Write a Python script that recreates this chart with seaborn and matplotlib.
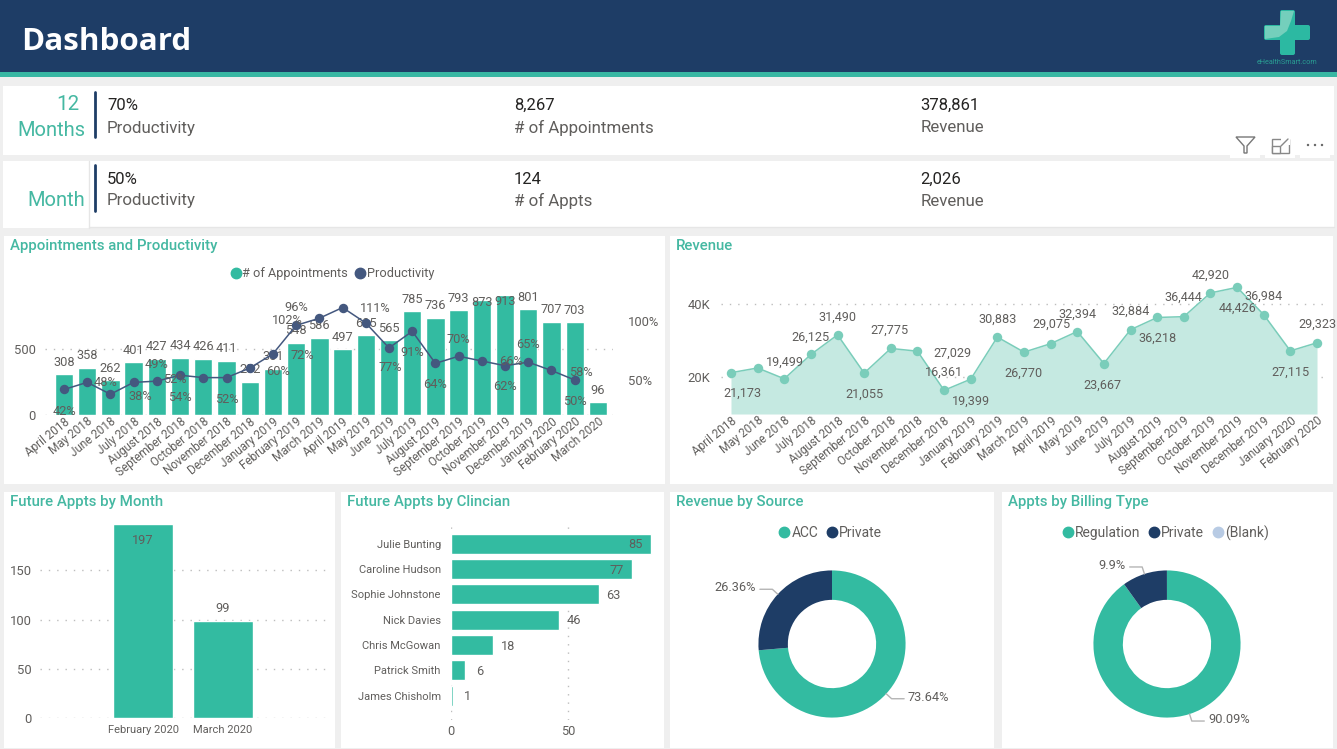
import numpy as np
import pandas as pd
import matplotlib
matplotlib.use('Agg')
import matplotlib.pyplot as plt
import seaborn as sns
from matplotlib.lines import Line2D
from matplotlib.patches import Rectangle, FancyBboxPatch, Polygon, Circle

W, H = 1337, 749

TEAL = '#33BBA1'
NAVY = '#1E3D66'
SLATE = '#44587F'
TITLE = '#45B8A2'
GREY = '#605E5C'
PAGE = '#EFEFEF'

months = ['April 2018', 'May 2018', 'June 2018', 'July 2018', 'August 2018', 'September 2018',
          'October 2018', 'November 2018', 'December 2018', 'January 2019', 'February 2019',
          'March 2019', 'April 2019', 'May 2019', 'June 2019', 'July 2019', 'August 2019',
          'September 2019', 'October 2019', 'November 2019', 'December 2019', 'January 2020',
          'February 2020', 'March 2020']
appointments = [308, 358, 262, 401, 427, 434, 426, 411, 252, 351, 548, 586, 497, 605, 565,
                785, 736, 793, 873, 913, 801, 707, 703, 96]
productivity = [42, 48, 38, 48, 49, 54, 52, 52, 60, 72, 96, 102, 111, 98, 77, 91, 64, 70, 66,
                62, 65, 58, 50]
revenue = [21173, 22450, 19499, 26125, 31490, 21055, 27775, 27029, 16361, 19399, 30883, 26770,
           29075, 32394, 23667, 32884, 36218, 36444, 42920, 44426, 36984, 27115, 29323]

future_months = ['February 2020', 'March 2020']
future_appts = [197, 99]
clinicians = ['Julie Bunting', 'Caroline Hudson', 'Sophie Johnstone', 'Nick Davies',
              'Chris McGowan', 'Patrick Smith', 'James Chisholm']
clinician_appts = [85, 77, 63, 46, 18, 6, 1]

source_names = ['ACC', 'Private']
source_share = [73.64, 26.36]
billing_names = ['Regulation', 'Private', '(Blank)']
billing_share = [90.09, 9.9, 0.01]
billing_labels = ['90.09%', '9.9%', None]

kpi_rows = [
    [('70%', 'Productivity'), ('8,267', '# of Appointments'), ('378,861', 'Revenue')],
    [('50%', 'Productivity'), ('124', '# of Appts'), ('2,026', 'Revenue')],
]

# label offsets in pixels (dx, dy down), None where power bi dropped the label
prod_offsets = [(0, 22), (18, 0), (30, 2), None, (0, -17), (0, 22), (-28, 2), (0, 22), (28, 3),
                (29, 2), (0, -18), (-32, 2), (33, 1), None, (1, 20), (0, 21), (0, 21), (0, -17),
                (29, 1), (0, 21), (0, -18), (29, 2), (0, 22)]
appt_offsets = [-12] * 24
appt_offsets[18] = 3
appt_offsets[19] = 7
rev_offsets = [(11, 21), None, (1, -17), (0, -17), (0, -18), (0, 21), (-1, -18), (35, 2),
               (0, -18), (0, 22), (0, -18), (-1, 21), (1, -19), (0, -17), (-1, 22), (0, -18),
               (0, 21), (-1, -19), (0, -18), (0, 21), (0, -18), (0, 21), (0, -18)]


def ax_px(x0, y0, x1, y1):
    ax = fig.add_axes([x0 / W, 1 - y1 / H, (x1 - x0) / W, (y1 - y0) / H])
    ax.patch.set_alpha(0)
    return ax


def style_axis(ax, grid='y'):
    sns.despine(ax=ax, left=True, bottom=True, right=True, top=True)
    ax.set_xlabel('')
    ax.set_ylabel('')
    ax.tick_params(length=0, colors=GREY, labelsize=9.4)
    ax.grid(False)
    ax.grid(axis=grid, color='#bdbdbd', linestyle=(0, (1, 5)), linewidth=1)
    ax.set_axisbelow(True)


def month_ticks(ax, labels):
    ax.set_xticks(range(len(labels)))
    ax.set_xticklabels(labels, rotation=39, ha='right', rotation_mode='anchor', fontsize=8.5, color=GREY)
    ax.tick_params(axis='x', pad=0)


def card(x0, y0, x1, y1, title=None):
    bg.add_patch(Rectangle((x0, y0), x1 - x0, y1 - y0, facecolor='white', edgecolor='none'))
    if title:
        bg.text(x0 + 6, y0 + 10, title, color=TITLE, fontsize=10.8, fontweight='medium', va='center', ha='left')


def donut(ax, shares, labels, colors, text_dx):
    wedges, _ = ax.pie(shares, colors=colors, startangle=90, counterclock=False, radius=1,
                       wedgeprops=dict(width=0.4, linewidth=0))
    ax.set_xlim(-1.4, 1.4)
    ax.set_ylim(-1.4, 1.4)
    for wedge, label in zip(wedges, labels):
        if label is None:
            continue
        ang = np.deg2rad((wedge.theta1 + wedge.theta2) / 2)
        px, py = np.cos(ang), np.sin(ang)
        side = 1 if px > 0 else -1
        ex, ey = 1.1 * px, 1.1 * py
        ax.plot([px, ex, ex + side * 0.17], [py, ey, ey], color='#b5b5b5', lw=1, clip_on=False)
        ax.text(ex + side * text_dx, ey + 0.02, label, color=GREY, fontsize=9.2, va='center',
                ha='left' if side > 0 else 'right', clip_on=False)


def dot_legend(ax, names, colors, cx, cy, **kw):
    handles = [Line2D([], [], marker='o', linestyle='', markersize=7.5, color=c, label=n)
               for n, c in zip(names, colors)]
    leg = ax.legend(handles=handles, ncols=len(names), loc='center', frameon=False,
                    bbox_to_anchor=(cx / W, 1 - cy / H), bbox_transform=fig.transFigure,
                    handlelength=0.9, handletextpad=0.05, columnspacing=0.55, borderpad=0, **kw)
    for t in leg.get_texts():
        t.set_color(GREY)
    return leg


sns.set_theme(style='white')
plt.rcParams['font.family'] = ['Roboto', 'DejaVu Sans']

fig = plt.figure(figsize=(W / 100, H / 100), dpi=100, facecolor=PAGE)

bg = fig.add_axes([0, 0, 1, 1])
bg.set_xlim(0, W)
bg.set_ylim(H, 0)
bg.axis('off')

# header
bg.add_patch(Rectangle((0, 0), W, 72, facecolor=NAVY, edgecolor='none'))
bg.add_patch(Rectangle((0, 72), W, 5, facecolor='#38B7A3', edgecolor='none'))
bg.text(21, 41.5, 'Dashboard', color='white', fontsize=22.6, fontfamily='Open Sans', fontweight='bold',
        va='center', ha='left')

# logo
bg.add_patch(FancyBboxPatch((1280, 10), 15, 45, boxstyle='round,pad=0,rounding_size=2', fc='#2CB9A2', ec='none'))
bg.add_patch(FancyBboxPatch((1264, 25), 46, 15, boxstyle='round,pad=0,rounding_size=2', fc='#2CB9A2', ec='none'))
bg.add_patch(Polygon([(1265, 26), (1280, 26), (1281, 11), (1294, 11), (1291, 21), (1287, 31), (1279, 37), (1265, 39)],
                     fc='#74CFBC', ec='none'))
bg.text(1287, 63, 'eHealthSmart.com', color='#2A9E93', fontsize=5.2, ha='center', va='center')

# kpi strips
card(3, 86, 1334, 155)
card(3, 161, 1334, 228)
bg.plot([89, 89], [161, 228], color='#e6e6e6', lw=1)
bg.plot([89, 1334], [227, 227], color='#e6e6e6', lw=1)
bg.plot([95, 95], [92, 137], color=NAVY, lw=2)
bg.plot([95, 95], [165, 211], color=NAVY, lw=2)
bg.text(79, 105, '12', color=TITLE, fontsize=14.8, ha='right', va='center')
bg.text(85, 131, 'Months', color=TITLE, fontsize=14.5, ha='right', va='center')
bg.text(85, 200, 'Month', color=TITLE, fontsize=14.5, ha='right', va='center')
for row, (y_val, y_lab) in zip(kpi_rows, [(105, 128), (179, 201)]):
    for (val, lab), x in zip(row, [107, 514, 920.5]):
        bg.text(x, y_val, val, color='#252423', fontsize=12, va='center', ha='left')
        bg.text(x, y_lab, lab, color=GREY, fontsize=12.2, va='center', ha='left')

# visual header icons
for x in [1230, 1265, 1300]:
    bg.add_patch(Rectangle((x, 135), 30, 23, facecolor='white', edgecolor='none'))
bg.add_patch(Polygon([(1236, 137), (1255, 137), (1247, 146), (1247, 153), (1244, 153), (1244, 146)],
                     fc='white', ec='#777777', lw=1))
bg.add_patch(Rectangle((1272, 139), 17, 14, fc='white', ec='#888888', lw=1))
bg.add_patch(Rectangle((1272, 146), 8, 7, fc='white', ec='#888888', lw=1))
bg.add_patch(Rectangle((1281, 137), 9, 8, fc='white', ec='none'))
bg.plot([1281, 1288], [146, 139], color='#888888', lw=1)
for x in [1308, 1315, 1322]:
    bg.add_patch(Circle((x, 145), 1.2, fc='#666666', ec='none'))

card(4, 236, 665, 484, 'Appointments and Productivity')
card(670, 236, 1333, 484, 'Revenue')
card(4, 492, 335, 748, 'Future Appts by Month')
card(341, 492, 664, 748, 'Future Appts by Clincian')
card(670, 492, 994, 748, 'Revenue by Source')
card(1002, 492, 1333, 748, 'Appts by Billing Type')

# appointments and productivity
ax = ax_px(45, 285, 613, 415)
sns.barplot(x=months, y=appointments, color=TEAL, saturation=1, width=0.79, ax=ax)
style_axis(ax)
ax.set_xlim(-0.819, 23.65)
ax.set_ylim(0, 985)
ax.set_yticks([0, 500])
ax.tick_params(axis='y', pad=6.5)
month_ticks(ax, months)
for i, (v, dy) in enumerate(zip(appointments, appt_offsets)):
    ax.annotate(str(v), (i, v), xytext=(0, -dy), textcoords='offset pixels', ha='center', va='center',
                color=GREY, fontsize=9.2)

ax2 = ax.twinx()
ax2.patch.set_alpha(0)
sns.lineplot(x=np.arange(len(productivity)), y=productivity, color=SLATE, lw=1.1, marker='o', markersize=6.8,
             markeredgewidth=0, ax=ax2)
ax2.set_xlim(-0.819, 23.65)
ax2.set_ylim(20.5, 130)
ax2.set_yticks([50, 100])
ax2.set_yticklabels(['50%', '100%'])
style_axis(ax2)
ax2.grid(False)
ax2.tick_params(axis='y', pad=10.5)
for i, (v, off) in enumerate(zip(productivity, prod_offsets)):
    if off is None:
        continue
    ax2.annotate(f'{v}%', (i, v), xytext=(off[0], -off[1]), textcoords='offset pixels', ha='center',
                 va='center', color=GREY, fontsize=9.2)
dot_legend(ax2, ['# of Appointments', 'Productivity'], [TEAL, SLATE], 332, 274, fontsize=9.2)

# revenue
ax = ax_px(721, 275, 1326, 414)
xs = np.arange(len(revenue))
ax.fill_between(xs, revenue, 9900, color='#C5E9E1', linewidth=0)
sns.lineplot(x=xs, y=revenue, color='#7ACDBA', lw=1.1, marker='o', markersize=6.8, markeredgewidth=0, ax=ax)
style_axis(ax)
ax.set_xlim(-10 / 26.64, 22 + 9 / 26.64)
ax.set_ylim(9900, 47800)
ax.set_yticks([20000, 40000])
ax.set_yticklabels(['20K', '40K'])
ax.tick_params(axis='y', pad=8)
month_ticks(ax, months[:len(revenue)])
for i, (v, off) in enumerate(zip(revenue, rev_offsets)):
    if off is None:
        continue
    ax.annotate(f'{v:,}', (i, v), xytext=(off[0], -off[1]), textcoords='offset pixels', ha='center',
                va='center', color=GREY, fontsize=9.1)

# future appts by month
ax = ax_px(40, 524, 326, 718)
sns.barplot(x=future_months, y=future_appts, color=TEAL, saturation=1, width=0.76, ax=ax)
style_axis(ax)
ax.set_xlim(-1.2875, 2.2875)
ax.set_ylim(0, 197)
ax.set_yticks([0, 50, 100, 150])
ax.tick_params(axis='y', pad=6)
ax.tick_params(axis='x', pad=5, labelsize=8)
ax.annotate('197', (0, 197), xytext=(0, -16), textcoords='offset pixels', ha='center', va='center',
            color=GREY, fontsize=9.2)
ax.annotate('99', (1, 99), xytext=(0, 12), textcoords='offset pixels', ha='center', va='center',
            color=GREY, fontsize=9.2)

# future appts by clinician
ax = ax_px(450.5, 525, 655, 720)
sns.barplot(x=clinician_appts, y=clinicians, color=TEAL, saturation=1, width=0.79, orient='h', ax=ax)
style_axis(ax, grid='x')
ax.set_xlim(0, 204.5 / 2.353)
ax.set_ylim(6.96, -0.738)
ax.set_xticks([0, 50])
ax.tick_params(axis='y', pad=7, labelsize=8)
ax.tick_params(axis='x', pad=3.5, labelsize=9.2)
for i, v in enumerate(clinician_appts):
    dx = -15 if v > 70 else 15
    ax.annotate(str(v), (v, i), xytext=(dx, -1), textcoords='offset pixels', ha='center', va='center',
                color=GREY, fontsize=9.2)

# donuts
ax = ax_px(832 - 103, 644 - 103, 832 + 103, 644 + 103)
donut(ax, source_share, ['73.64%', '26.36%'], [TEAL, NAVY], 0.22)
dot_legend(ax, source_names, [TEAL, NAVY], 830, 533, fontsize=10)

ax = ax_px(1167 - 103, 644 - 103, 1167 + 103, 644 + 103)
donut(ax, billing_share, billing_labels, [TEAL, NAVY, '#B8CBE4'], 0.22)
dot_legend(ax, billing_names, [TEAL, NAVY, '#B8CBE4'], 1165, 533, fontsize=10)

fig.savefig('out.png', dpi=100, facecolor=PAGE)
